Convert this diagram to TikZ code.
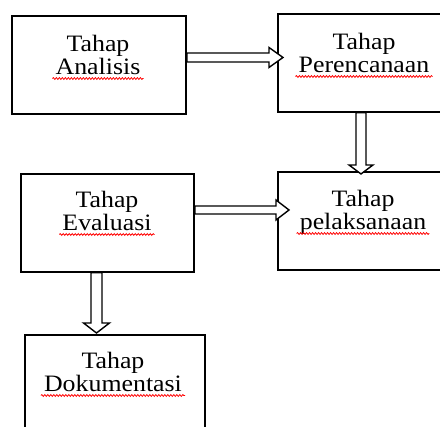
\documentclass[tikz,border=0pt]{standalone}
\usepackage{fontspec}
\setmainfont{Liberation Serif}[FakeStretch=1.1]
\usetikzlibrary{calc,decorations.pathmorphing}
\tikzset{
  box/.style={draw=black, line width=1.8pt, rectangle, anchor=north west, inner sep=0pt},
  lbl/.style={anchor=base, inner sep=0pt, font=\fontsize{23.5}{23.5}\selectfont},
  blockarrow/.style={draw=black, fill=white, line width=1.4pt, line join=miter},
  squiggle/.style={red, line width=0.8pt, decorate, decoration={snake, amplitude=0.9pt, segment length=3pt}}
}
\newcommand{\hblockarrow}[5]{%
  \draw[blockarrow] let \p1=(#1), \p2=(#2) in
    (\x1,\y1+#3) -- (\x2-#5,\y1+#3) -- (\x2-#5,\y1+#4) -- (\x2,\y1)
    -- (\x2-#5,\y1-#4) -- (\x2-#5,\y1-#3) -- (\x1,\y1-#3) -- cycle;}
\newcommand{\vblockarrow}[5]{%
  \draw[blockarrow] let \p1=(#1), \p2=(#2) in
    (\x1-#3,\y1) -- (\x1-#3,\y2+#5) -- (\x1-#4,\y2+#5) -- (\x1,\y2)
    -- (\x1+#4,\y2+#5) -- (\x1+#3,\y2+#5) -- (\x1+#3,\y1) -- cycle;}
\begin{document}
\begin{tikzpicture}[x=1pt,y=-1pt]
\useasboundingbox (0,0) rectangle (440,427);
\clip (0,0) rectangle (440,427);
% boxes
\node[box, minimum width=174pt, minimum height=98pt] (A) at (11,15) {};
\node[box, minimum width=180pt, minimum height=98pt] (P) at (277,13) {};
\node[box, minimum width=173pt, minimum height=98pt] (E) at (20,173) {};
\node[box, minimum width=180pt, minimum height=98pt] (L) at (277,171) {};
\node[box, minimum width=180pt, minimum height=110pt] (D) at (24,334) {};
% labels
\node[lbl] (A1) at (98,52) {Tahap};
\node[lbl] (A2) at (98,75) {Analisis};
\node[lbl] (P1) at (364,50) {Tahap};
\node[lbl] (P2) at (364,73) {Perencanaan};
\node[lbl] (E1) at (107,208) {Tahap};
\node[lbl] (E2) at (107,231) {Evaluasi};
\node[lbl] (L1) at (363,207) {Tahap};
\node[lbl] (L2) at (363,230) {pelaksanaan};
\node[lbl] (D1) at (113,369) {Tahap};
\node[lbl] (D2) at (113,392) {Dokumentasi};
% spell-check squiggles
\foreach \n in {A2,P2,E2,L2,D2}{
  \draw[squiggle] ([xshift=-3pt,yshift=-3.5pt]\n.base west) -- ([xshift=3pt,yshift=-3.5pt]\n.base east);
}
% arrows
\coordinate (a1s) at (A.east |- 0,57.5);
\coordinate (a1t) at ([xshift=6pt]P.west |- 0,57.5);
\hblockarrow{a1s}{a1t}{4.5pt}{10pt}{14pt}
\coordinate (a2s) at (P.south west -| 361,0);
\coordinate (a2t) at ([yshift=-3pt]L.north west -| 361,0);
\vblockarrow{a2s}{a2t}{5pt}{12pt}{9pt}
\coordinate (a3s) at (E.east |- 0,210);
\coordinate (a3t) at ([xshift=12pt]L.west |- 0,210);
\hblockarrow{a3s}{a3t}{4pt}{10pt}{13pt}
\coordinate (a4s) at (E.south west -| 96.5,0);
\coordinate (a4t) at ([yshift=1pt]D.north west -| 96.5,0);
\vblockarrow{a4s}{a4t}{5.5pt}{13pt}{10pt}
\end{tikzpicture}
\end{document}
